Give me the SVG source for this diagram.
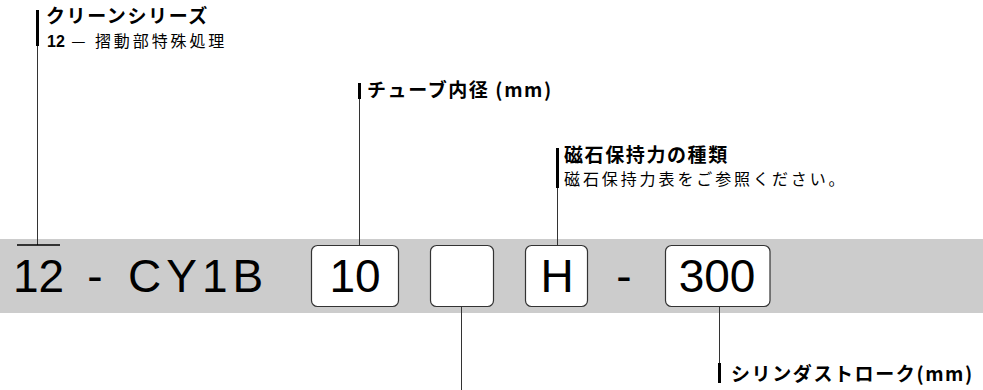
<svg xmlns="http://www.w3.org/2000/svg" width="983" height="390" viewBox="0 0 983 390">
<style>
.big{font-family:"Liberation Sans",Arial,sans-serif;font-size:46px;fill:#000}
.hd{font-family:"Noto Sans CJK JP",sans-serif;font-size:19px;font-weight:bold;fill:#000;letter-spacing:1.6px}
.sub{font-family:"Noto Sans CJK JP",sans-serif;font-size:16px;fill:#000;letter-spacing:2.9px}
.box{fill:#fff;stroke:#333;stroke-width:1.2}
.thin{stroke:#333;stroke-width:1;fill:none}
.bar{stroke:#000;stroke-width:3;fill:none}
</style>
<rect x="0" y="239" width="983" height="74" fill="#cccccc"/>
<g id="connectors">
<line class="thin" x1="37.5" y1="44" x2="37.5" y2="245"/>
<line class="bar" x1="37.5" y1="10" x2="37.5" y2="46"/>
<line x1="17" y1="245" x2="60" y2="245" stroke="#000" stroke-width="1.6"/>
<line class="thin" x1="359.5" y1="98" x2="359.5" y2="245"/>
<line class="bar" x1="359.5" y1="83" x2="359.5" y2="99"/>
<line class="thin" x1="557.5" y1="186" x2="557.5" y2="245"/>
<line class="bar" x1="557.5" y1="148" x2="557.5" y2="188"/>
<line class="thin" x1="461.5" y1="306" x2="461.5" y2="390"/>
<line class="thin" x1="719.5" y1="306" x2="719.5" y2="365"/>
<line class="bar" x1="719.5" y1="363" x2="719.5" y2="383"/>
</g>
<g id="code">
<text class="big" x="13" y="292">12</text>
<text class="big" x="95" y="292" text-anchor="middle">-</text>
<text class="big" x="128" y="292" letter-spacing="5">CY1B</text>
</g>
<g id="n-bore">
<rect class="box" x="311.5" y="245.5" width="87" height="61" rx="6"/>
<text class="big" x="355" y="292" text-anchor="middle">10</text>
</g>
<g id="n-blank">
<rect class="box" x="430.5" y="245.5" width="63" height="61" rx="6"/>
</g>
<g id="n-H">
<rect class="box" x="525.5" y="245.5" width="62" height="61" rx="6"/>
<text class="big" x="557" y="292" text-anchor="middle">H</text>
</g>
<text class="big" x="624" y="292" text-anchor="middle">-</text>
<g id="n-stroke">
<rect class="box" x="665.5" y="245.5" width="104.5" height="61" rx="6"/>
<text class="big" x="717" y="292" text-anchor="middle" font-size="47">300</text>
</g>
<g id="l-clean">
<text class="hd" x="46" y="23">クリーンシリーズ</text>
<text class="sub" x="47" y="47" font-size="15.5" letter-spacing="3.4"><tspan font-family="Liberation Sans, Arial, sans-serif" font-weight="bold" font-size="16" letter-spacing="0">12</tspan> — 摺動部特殊処理</text>
</g>
<g id="l-bore">
<text class="hd" x="367" y="97" letter-spacing="1.6">チューブ内径 (mm)</text>
</g>
<g id="l-mag">
<text class="hd" x="564" y="162">磁石保持力の種類</text>
<text class="sub" x="564" y="185">磁石保持力表をご参照ください。</text>
</g>
<g id="l-stroke">
<text class="hd" x="731" y="381" letter-spacing="1.6">シリンダストローク(mm)</text>
</g>
</svg>
